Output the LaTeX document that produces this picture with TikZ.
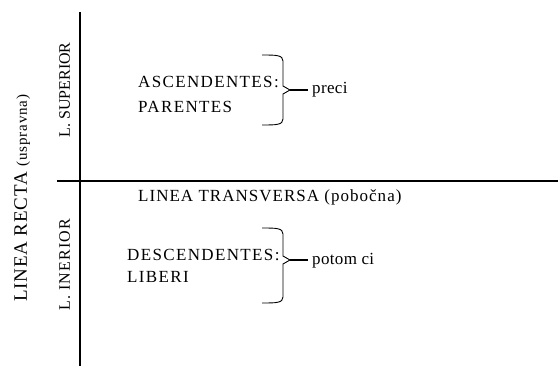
\documentclass[tikz,border=0pt]{standalone}
\usepackage{fontspec}
\setmainfont{Liberation Serif}
\newfontfamily\capf[LetterSpace=8]{Liberation Serif}
\newfontfamily\trf[LetterSpace=6]{Liberation Serif}
\newfontfamily\lowf[LetterSpace=2]{Liberation Serif}
\newfontfamily\rotf{Liberation Serif}
\newfontfamily\rotw[LetterSpace=7]{Liberation Serif}
\newfontfamily\rotbig[LetterSpace=4]{Liberation Serif}
\newfontfamily\rotsm[LetterSpace=6]{Liberation Serif}
\begin{document}
\begin{tikzpicture}[x=1pt,y=-1pt,
  txt/.style={inner sep=0pt,anchor=base west,font=\capf\fontsize{17}{20}\selectfont},
  word/.style={inner sep=0pt,anchor=base west,font=\lowf\fontsize{17}{20}\selectfont},
  vert/.style={inner sep=0pt,anchor=base,rotate=90},
  axis/.style={line width=1.1pt},
  bracket/.style={line width=0.9pt},
  tick/.style={line width=1.6pt}]
\useasboundingbox (0,0) rectangle (558,369);
% axes
\coordinate (vt) at (80,12);
\coordinate (vb) at (80,366);
\coordinate (hl) at (57,181);
\coordinate (hr) at (558,181);
\draw[axis] (vt) -- (vb);
\draw[axis] (hl) -- (hr);
% rotated labels
\node[vert] (recta) at (27,198)
  {\rotbig\fontsize{19}{22}\selectfont LINEA RECTA \rotsm\fontsize{15}{18}\selectfont(uspravna)};
\node[vert,font=\rotf\fontsize{16}{19}\selectfont] (sup) at (70,90) {L. SUPERIOR};
\node[vert,font=\rotw\fontsize{16}{19}\selectfont] (inf) at (70,265) {L. INERIOR};
% upper block
\node[txt] (asc) at (138,88) {ASCENDENTES:};
\node[txt] (par) at (138,113) {PARENTES};
\draw[bracket] (262,55) .. controls (276,55) and (283,55) .. (283,61) -- (283,86) -- (290,90) -- (283,94)
  -- (283,119) .. controls (283,125) and (276,125) .. (262,125);
\coordinate (tipA) at (290,90);
\node[word] (preci) at (312,94) {preci};
\draw[tick] (tipA) -- ([xshift=-4pt]preci.west |- tipA);
% transversa
\node[txt,font=\trf\fontsize{17}{20}\selectfont] (trans) at (138,202) {LINEA TRANSVERSA (pobočna)};
% lower block
\node[txt] (desc) at (127,260) {DESCENDENTES:};
\node[txt] (lib) at (127,283) {LIBERI};
\draw[bracket] (262,228) .. controls (276,228) and (283,228) .. (283,234) -- (283,256) -- (290,260) -- (283,264)
  -- (283,297) .. controls (283,303) and (276,303) .. (262,303);
\coordinate (tipB) at (290,260);
\node[word] (potom) at (312,264) {potom ci};
\draw[tick] (tipB) -- ([xshift=-4pt]potom.west |- tipB);
\end{tikzpicture}
\end{document}
